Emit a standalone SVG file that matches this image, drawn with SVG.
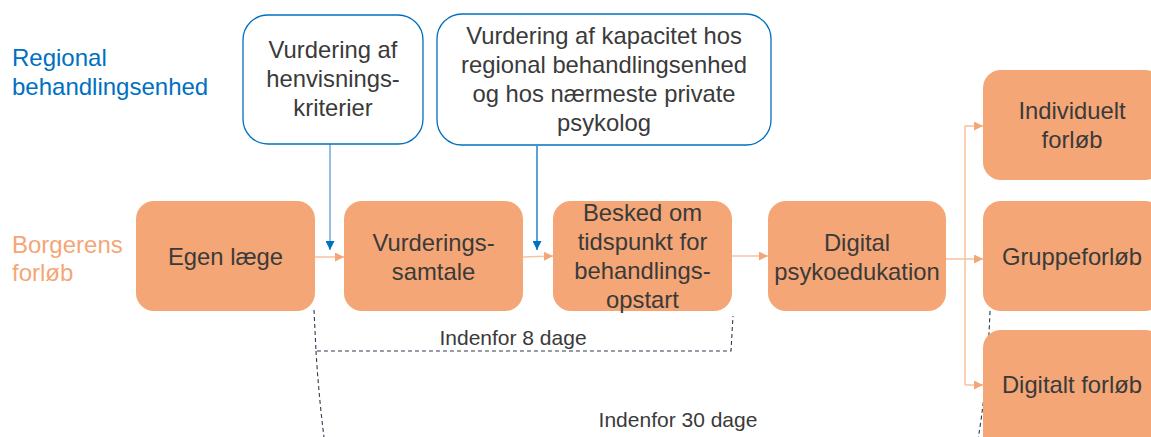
<svg xmlns="http://www.w3.org/2000/svg" width="1151" height="437" viewBox="0 0 1151 437">
  <style>
    .lane { font-family: "Liberation Sans", Arial, sans-serif; font-size: 24px; }
    .lane-blue { fill: #0070C0; }
    .lane-orange { fill: #F4A677; }
    .step rect { fill: #F4A677; }
    .check rect { fill: #FFFFFF; stroke: #0070C0; stroke-width: 1.3; }
    .lbl { font-family: "Liberation Sans", Arial, sans-serif; font-size: 23.8px; fill: #3A3A3A; text-anchor: middle; }
    .span-lbl { font-family: "Liberation Sans", Arial, sans-serif; font-size: 21px; fill: #3A3A3A; text-anchor: middle; }
    .flow { fill: none; stroke: #F8C3A2; stroke-width: 1.6; }
    .info { fill: none; stroke-width: 1.3; }
    .span { fill: none; stroke: #2F3A4C; stroke-width: 1.1; stroke-dasharray: 4 3; }
  </style>
  <defs>
    <marker id="arrow-orange" viewBox="0 0 10 10" refX="10" refY="5" markerWidth="9" markerHeight="9" markerUnits="userSpaceOnUse" orient="auto">
      <path d="M0,0 L10,5 L0,10 Z" fill="#F4A677"/>
    </marker>
    <marker id="arrow-blue" viewBox="0 0 10 10" refX="10" refY="5" markerWidth="9" markerHeight="9" markerUnits="userSpaceOnUse" orient="auto">
      <path d="M0,0 L10,5 L0,10 Z" fill="#0070C0"/>
    </marker>
  </defs>

  <!-- lane labels -->
  <g id="lane-regional" class="lane lane-blue">
    <text x="12" y="66">Regional</text>
    <text x="12" y="95">behandlingsenhed</text>
  </g>
  <g id="lane-borger" class="lane lane-orange">
    <text x="12" y="253">Borgerens</text>
    <text x="12" y="281">forløb</text>
  </g>

  <!-- time spans (drawn first so boxes cover them) -->
  <g id="spans">
    <path class="span" d="M314,310 L316,351 L731,351 L733,316"/>
    <path class="span" d="M316,351 Q319,400 325,445"/>
    <path class="span" d="M990,311 Q987,390 977,445"/>
    <text class="span-lbl" x="513" y="345">Indenfor 8 dage</text>
    <text class="span-lbl" x="678" y="427">Indenfor 30 dage</text>
  </g>

  <!-- connectors -->
  <g id="connectors">
    <path class="info" stroke="#5B9BD5" d="M330,144 L330,250" marker-end="url(#arrow-blue)"/>
    <path class="info" stroke="#0070C0" d="M537,146 L537,250" marker-end="url(#arrow-blue)"/>
    <path class="flow" d="M315,257 L344,257" marker-end="url(#arrow-orange)"/>
    <path class="flow" d="M523,257 L553,256" marker-end="url(#arrow-orange)"/>
    <path class="flow" d="M732,256 L768,256" marker-end="url(#arrow-orange)"/>
    <path class="flow" d="M946,259 L965,259"/>
    <path class="flow" d="M965,126 L965,385"/>
    <path class="flow" d="M965,126 L983,126" marker-end="url(#arrow-orange)"/>
    <path class="flow" d="M965,259 L983,259" marker-end="url(#arrow-orange)"/>
    <path class="flow" d="M965,385 L983,385" marker-end="url(#arrow-orange)"/>
  </g>

  <!-- regional checks -->
  <g id="check-henvisning" class="check">
    <rect x="243" y="15" width="180" height="129" rx="25"/>
    <text class="lbl" x="333" y="58">Vurdering af</text>
    <text class="lbl" x="333" y="87">henvisnings-</text>
    <text class="lbl" x="333" y="116">kriterier</text>
  </g>
  <g id="check-kapacitet" class="check">
    <rect x="437" y="14" width="334" height="131" rx="25"/>
    <text class="lbl" x="604" y="44">Vurdering af kapacitet hos</text>
    <text class="lbl" x="604" y="73">regional behandlingsenhed</text>
    <text class="lbl" x="604" y="102">og hos nærmeste private</text>
    <text class="lbl" x="604" y="131">psykolog</text>
  </g>

  <!-- citizen pathway -->
  <g id="step-egen-laege" class="step">
    <rect x="136" y="201" width="179" height="110" rx="18"/>
    <text class="lbl" x="225.5" y="265">Egen læge</text>
  </g>
  <g id="step-vurderingssamtale" class="step">
    <rect x="344" y="201" width="179" height="110" rx="18"/>
    <text class="lbl" x="433.5" y="251">Vurderings-</text>
    <text class="lbl" x="433.5" y="280">samtale</text>
  </g>
  <g id="step-besked" class="step">
    <rect x="553" y="201" width="179" height="110" rx="18"/>
    <text class="lbl" x="642.5" y="221">Besked om</text>
    <text class="lbl" x="642.5" y="250">tidspunkt for</text>
    <text class="lbl" x="642.5" y="279">behandlings-</text>
    <text class="lbl" x="642.5" y="308">opstart</text>
  </g>
  <g id="step-psykoedukation" class="step">
    <rect x="768" y="201" width="178" height="110" rx="18"/>
    <text class="lbl" x="857" y="251">Digital</text>
    <text class="lbl" x="857" y="280">psykoedukation</text>
  </g>
  <g id="step-individuelt" class="step">
    <rect x="983" y="70" width="180" height="110" rx="18"/>
    <text class="lbl" x="1072" y="119">Individuelt</text>
    <text class="lbl" x="1072" y="148">forløb</text>
  </g>
  <g id="step-gruppe" class="step">
    <rect x="983" y="201" width="180" height="110" rx="18"/>
    <text class="lbl" x="1072" y="265">Gruppeforløb</text>
  </g>
  <g id="step-digitalt" class="step">
    <rect x="983" y="330" width="180" height="125" rx="18"/>
    <text class="lbl" x="1072" y="393">Digitalt forløb</text>
  </g>
</svg>
